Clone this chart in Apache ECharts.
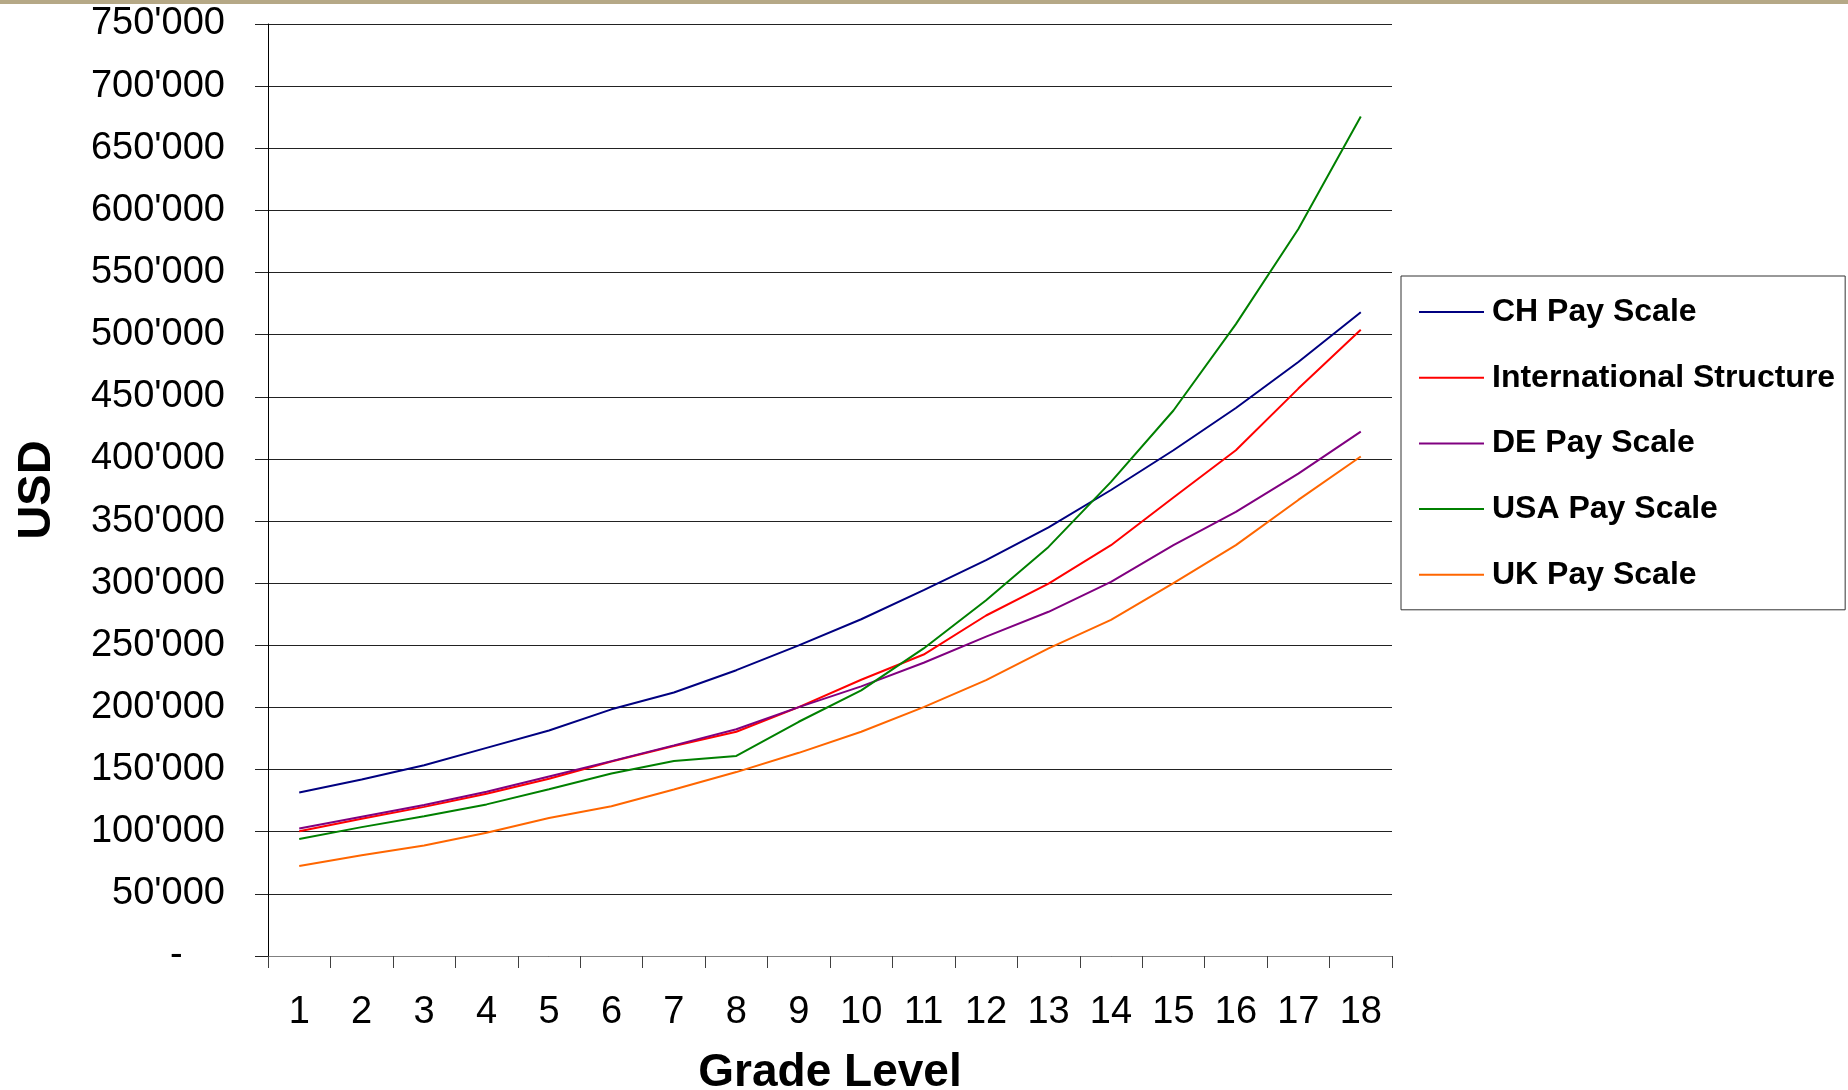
<!DOCTYPE html>
<html>
<head>
<meta charset="utf-8">
<script src="https://cdn.jsdelivr.net/npm/echarts@6/dist/echarts.min.js"></script>
<style>
  html, body { margin: 0; padding: 0; background: #fff; }
  #chart { width: 1848px; height: 1090px; }
</style>
</head>
<body>
<div id="chart"></div>
<script>
// Grade levels on the x axis
const grades = ['1','2','3','4','5','6','7','8','9','10','11','12','13','14','15','16','17','18'];

// Annual pay per grade, USD
const chPay   = [131600,142000,153500,167500,181500,198500,212000,230000,250000,271000,294500,318500,345000,375000,407000,441000,478000,518000];
const intlPay = [100400,110400,120000,130500,142700,156500,169000,180500,200300,222300,242600,274000,299700,330600,369000,407000,456600,504000];
const dePay   = [102600,112000,121500,132200,144500,156800,169500,182500,200300,217000,236000,257000,277000,301000,330600,357400,388200,422000];
const usaPay  = [94200,103700,112500,122000,134200,146800,157000,161000,188500,213700,247500,286300,329200,381500,439000,508500,585000,675500];
const ukPay   = [72500,81000,89000,99200,111000,120500,134000,148000,163500,180500,200300,222000,247500,270500,300000,330600,367000,402000];

const seriesNames = ['CH Pay Scale','International Structure','DE Pay Scale','USA Pay Scale','UK Pay Scale'];
const seriesColors = ['#000080','#FF0000','#800080','#008000','#FF6600'];
const seriesData = [chPay, intlPay, dePay, usaPay, ukPay];

const FONT = "'Liberation Sans', Arial, sans-serif";

function fmtUsd(v) {
  if (v === 0) return '-    ';
  return String(v).replace(/\B(?=(\d{3})+(?!\d))/g, "'");
}

const chart = echarts.init(document.getElementById('chart'), null, { renderer: 'canvas' });

chart.setOption({
  animation: false,
  backgroundColor: '#ffffff',
  textStyle: { fontFamily: FONT },
  graphic: [{
    type: 'rect',
    left: 0, top: 0,
    shape: { width: 1848, height: 4 },
    style: { fill: '#b5a886' },
    silent: true
  }],
  grid: { left: 268, right: 456, top: 24, bottom: 134, containLabel: false, outerBoundsMode: 'none' },
  legend: {
    orient: 'vertical',
    left: 1401, top: 276,
    data: seriesNames,
    icon: 'rect',
    itemWidth: 65, itemHeight: 2,
    itemGap: 33.7,
    padding: [20, 10, 19, 18],
    borderColor: '#333333', borderWidth: 1,
    textStyle: { fontFamily: FONT, fontSize: 32, fontWeight: 'bold', color: '#000', lineHeight: 32, padding: [0, 0, 0, 3] }
  },
  xAxis: {
    type: 'category',
    data: grades,
    boundaryGap: true,
    name: 'Grade Level',
    nameLocation: 'middle',
    nameGap: 94,
    nameTextStyle: { fontFamily: FONT, fontSize: 46, fontWeight: 'bold', color: '#000' },
    axisLine: { show: true, lineStyle: { color: '#808080', width: 1 } },
    axisTick: { show: true, length: 12, lineStyle: { color: '#404040', width: 1 } },
    axisLabel: { fontFamily: FONT, fontSize: 38, color: '#000', margin: 38 },
    splitLine: { show: false }
  },
  yAxis: {
    type: 'value',
    min: 0, max: 750000, interval: 50000,
    name: 'USD',
    nameLocation: 'middle',
    nameRotate: 90,
    nameGap: 207,
    nameTextStyle: { fontFamily: FONT, fontSize: 47, fontWeight: 'bold', color: '#000' },
    axisLine: { show: true, lineStyle: { color: '#000', width: 1 } },
    axisTick: { show: true, length: 13, lineStyle: { color: '#222', width: 1 } },
    axisLabel: { fontFamily: FONT, fontSize: 38, color: '#000', margin: 43, formatter: fmtUsd },
    splitLine: { show: true, lineStyle: { color: '#222', width: 1 } }
  },
  series: seriesNames.map((name, i) => ({
    name,
    type: 'line',
    data: seriesData[i],
    symbol: 'none',
    smooth: false,
    color: seriesColors[i],
    lineStyle: { color: seriesColors[i], width: 2 },
    itemStyle: { color: seriesColors[i] }
  }))
});
</script>
</body>
</html>
